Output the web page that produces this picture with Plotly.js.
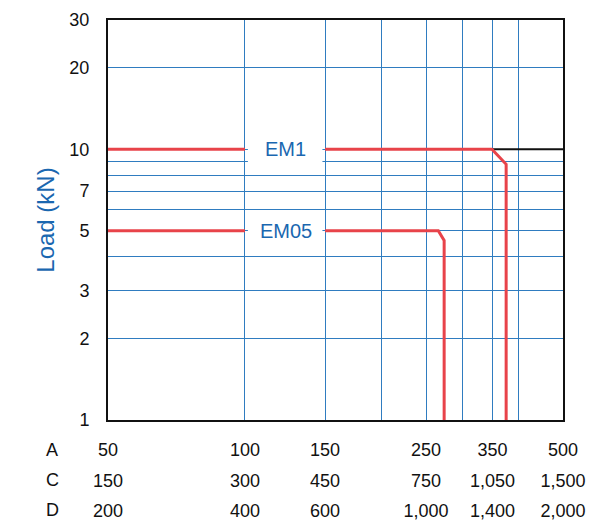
<!DOCTYPE html>
<html>
<head>
<meta charset="utf-8">
<script src="https://cdn.plot.ly/plotly-3.0.1.min.js"></script>
<style>html,body{margin:0;padding:0;background:#fff;}#chart{width:598px;height:521px;}</style>
</head>
<body>
<div id="chart"></div>
<script>
// Row A is the x scale; rows C and D are equivalent scales
const gridA = [50, 100, 150, 200, 250, 300, 350, 400, 500];
const labelA = ['50', '100', '150', '', '250', '', '350', '', '500'];
const labA = [50, 100, 150, 250, 350, 500];
const labC = ['150', '300', '450', '750', '1,050', '1,500'];
const labD = ['200', '400', '600', '1,000', '1,400', '2,000'];
const rowNames = ['A', 'C', 'D'];

const yGrid = [1, 2, 3, 4, 5, 6, 7, 8, 9, 10, 20, 30];
const yLabels = ['1', '2', '3', '', '5', '', '7', '', '', '10', '20', '30'];

// curves (A units, kN)
const em1X = [50, 100, null, 150, 349, 375, 375];
const em1Y = [10, 10, null, 10, 10, 8.8, 1];
const em05X = [50, 100, null, 150, 266, 274, 274];
const em05Y = [5, 5, null, 5, 5, 4.6, 1];
const limitX = [349, 500];
const limitY = [10, 10];

const labelNames = ['EM1', 'EM05'];
const labelPos = [[123, 10], [123, 5]];
const boxY = [[8.45, 11.6], [4.45, 5.6]];

const blue = '#1a67b0';
const gridBlue = '#2f7cc0';
const red = '#e8434a';

const xr = [Math.log10(50), Math.log10(500)];
const yr = [0, Math.log10(30)];

const traces = [
  {x: limitX, y: limitY, mode: 'lines', line: {color: '#111', width: 2}, hoverinfo: 'skip', showlegend: false},
  {x: em1X, y: em1Y, mode: 'lines', line: {color: red, width: 3}, connectgaps: false, name: 'EM1', showlegend: false},
  {x: em05X, y: em05Y, mode: 'lines', line: {color: red, width: 3}, connectgaps: false, name: 'EM05', showlegend: false},
  {x: labA, y: labA.map(() => 1), xaxis: 'x2', yaxis: 'y', mode: 'markers', marker: {opacity: 0}, hoverinfo: 'skip', showlegend: false},
  {x: labA, y: labA.map(() => 1), xaxis: 'x3', yaxis: 'y', mode: 'markers', marker: {opacity: 0}, hoverinfo: 'skip', showlegend: false}
];

const fam = 'Liberation Sans, Arial, sans-serif';
const tickFont = {family: fam, size: 18, color: '#111'};

const layout = {
  width: 598, height: 521,
  margin: {l: 108, r: 35, t: 20, b: 101},
  paper_bgcolor: '#fff', plot_bgcolor: '#fff',
  font: {family: fam},
  xaxis: {
    type: 'log', range: xr, tickmode: 'array', tickvals: gridA, ticktext: labelA,
    showgrid: true, gridcolor: gridBlue, gridwidth: 1, zeroline: false,
    showline: true, linecolor: '#111', linewidth: 2, mirror: true, ticks: '',
    tickfont: tickFont, ticklabelstandoff: 12
  },
  xaxis2: {
    type: 'log', range: xr, overlaying: 'x', side: 'bottom', anchor: 'y', tickmode: 'array',
    tickvals: labA, ticktext: labC, showgrid: false, zeroline: false, showline: false, ticks: '',
    tickfont: tickFont, ticklabelstandoff: 48
  },
  xaxis3: {
    type: 'log', range: xr, overlaying: 'x', side: 'bottom', anchor: 'y', tickmode: 'array',
    tickvals: labA, ticktext: labD, showgrid: false, zeroline: false, showline: false, ticks: '',
    tickfont: tickFont, ticklabelstandoff: 78
  },
  yaxis: {
    type: 'log', range: yr, tickmode: 'array', tickvals: yGrid, ticktext: yLabels,
    showgrid: true, gridcolor: gridBlue, gridwidth: 1, zeroline: false,
    showline: true, linecolor: '#111', linewidth: 2, mirror: true, ticks: '',
    tickfont: tickFont, ticklabelstandoff: 13,
    title: {text: 'Load (kN)', font: {size: 24, color: blue, family: fam}, standoff: 8}
  },
  shapes: labelNames.map((n, i) => ({
    type: 'rect', xref: 'x', yref: 'y', layer: 'between',
    x0: 101.5, x1: 148, y0: boxY[i][0], y1: boxY[i][1],
    fillcolor: '#fff', line: {width: 0}
  })),
  annotations: labelNames.map((n, i) => ({
    x: Math.log10(labelPos[i][0]), y: Math.log10(labelPos[i][1]), xref: 'x', yref: 'y',
    text: n, showarrow: false, font: {size: 20, color: blue, family: fam}
  })).concat(rowNames.map((r, i) => ({
    x: 52, y: 450 + 30 * i, xref: 'paper', yref: 'paper', text: r, showarrow: false,
    xanchor: 'center', yanchor: 'middle', font: tickFont
  })))
};
// convert row-letter pixel positions to paper coordinates
layout.annotations.forEach(a => {
  if (a.xref === 'paper') {
    const px = a.x, py = a.y;
    a.x = (px - 108) / (598 - 108 - 35);
    a.y = (521 - 101 - py) / (521 - 20 - 101);
  }
});

Plotly.newPlot('chart', traces, layout, {displayModeBar: false, staticPlot: true});
</script>
</body>
</html>
